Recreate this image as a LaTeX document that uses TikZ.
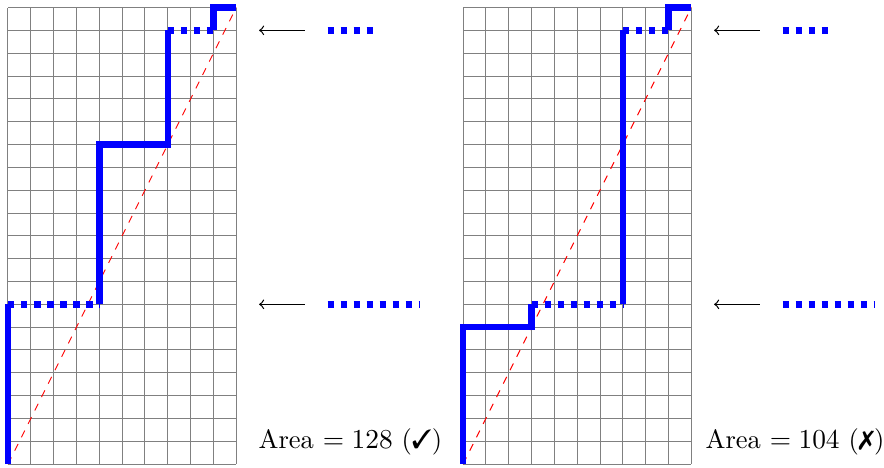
\documentclass[tikz,border=0pt]{standalone}
\usepackage{pifont}
\begin{document}
\begin{tikzpicture}[x=9.13pt,y=9.13pt,
 lattice/.style={gray,line width=.4pt,step=9.13pt},
 diagline/.style={red,dashed,line width=.4pt},
 route/.style={blue,line width=2.6pt},
 skipped/.style={route,dash pattern=on 2.6pt off 2.6pt},
 marker/.style={->,line width=.5pt},
 tally/.style={font=\fontsize{10.6pt}{13pt}\selectfont}]
 \useasboundingbox (-0.35,-0.13) rectangle (38.37,20.33);
 \draw[lattice] (0,0) grid (10,20);
 \draw[diagline] (0,0) -- (10,20);
 \draw[route] (0,0) -- (0,7); \draw[skipped] (0,7) -- (4,7);
 \draw[route] (4,7) -- (4,14) -- (7,14) -- (7,19); \draw[skipped] (7,19) -- (9,19);
 \draw[route] (9,19) -- (9,20) -- (10,20);
 \coordinate (ta) at (13,19); \coordinate (tb) at (11,19);
 \coordinate (ba) at (13,7); \coordinate (bb) at (11,7);
 \draw[marker] (ta) -- (tb); \draw[marker] (ba) -- (bb);
 \draw[skipped] (14,19) -- (16,19); \draw[skipped] (14,7) -- (18,7);
 \node[tally] (good) at (15.0,0.96) {Area $=128$ (\ding{51})};
 \begin{scope}[shift={(19.93,0)}]
  \draw[lattice] (0,0) grid (10,20);
  \draw[diagline] (0,0) -- (10,20);
  \draw[route] (0,0) -- (0,6) -- (3,6) -- (3,7); \draw[skipped] (3,7) -- (7,7);
  \draw[route] (7,7) -- (7,19); \draw[skipped] (7,19) -- (9,19);
  \draw[route] (9,19) -- (9,20) -- (10,20);
  \coordinate (rta) at (13,19); \coordinate (rtb) at (11,19);
  \coordinate (rba) at (13,7); \coordinate (rbb) at (11,7);
  \draw[marker] (rta) -- (rtb); \draw[marker] (rba) -- (rbb);
  \draw[skipped] (14,19) -- (16,19); \draw[skipped] (14,7) -- (18,7);
  \node[tally] (bad) at (14.54,0.96) {Area $=104$ (\ding{55})};
 \end{scope}
\end{tikzpicture}
\end{document}
